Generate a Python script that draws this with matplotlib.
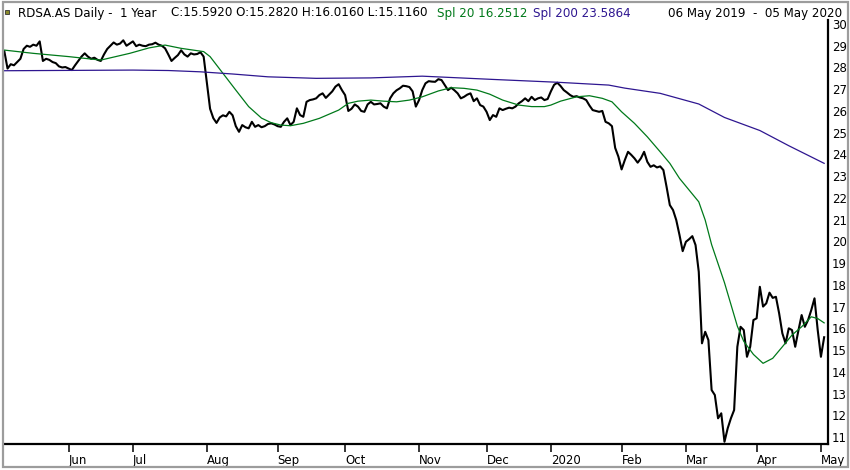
"""RDSA.AS daily close, 1 year, with Spl 20 and Spl 200 moving averages."""

import matplotlib

matplotlib.use("Agg")
import matplotlib.pyplot as plt
import numpy as np
import pandas as pd
from matplotlib.patches import Rectangle

# trading calendar (Euronext, holidays removed)
holidays = ["2019-12-25", "2019-12-26", "2020-01-01", "2020-04-10", "2020-04-13", "2020-05-01"]
dates = pd.bdate_range("2019-05-06", "2020-05-05")
dates = dates[~dates.isin(pd.to_datetime(holidays))]

# daily close
close = [
    28.75, 27.95, 28.15, 28.10, 28.25, 28.40, 28.85, 29.00, 28.95, 29.05,
    29.00, 29.20, 28.30, 28.40, 28.35, 28.25, 28.20, 28.05, 28.00, 28.02,
    27.95, 27.88, 28.10, 28.30, 28.50, 28.65, 28.50, 28.40, 28.45, 28.35,
    28.30, 28.60, 28.85, 29.00, 29.15, 29.05, 29.10, 29.25, 29.00, 29.10,
    29.20, 28.98, 29.05, 29.00, 28.98, 29.05, 29.07, 29.14, 29.05, 29.00,
    28.88, 28.60, 28.30, 28.44, 28.57, 28.79, 28.60, 28.50, 28.65, 28.60,
    28.62, 28.70, 28.50, 27.30, 26.10, 25.67, 25.45, 25.70, 25.80, 25.75,
    25.96, 25.80, 25.30, 25.04, 25.35, 25.25, 25.20, 25.50, 25.27, 25.35,
    25.25, 25.30, 25.40, 25.43, 25.38, 25.30, 25.27, 25.50, 25.66, 25.35,
    25.50, 26.12, 25.81, 25.73, 26.42, 26.50, 26.53, 26.58, 26.73, 26.81,
    26.60, 26.75, 26.90, 27.12, 27.23, 26.96, 26.73, 26.00, 26.10, 26.30,
    26.20, 26.00, 25.96, 26.30, 26.42, 26.30, 26.32, 26.35, 26.20, 26.12,
    26.58, 26.81, 26.95, 27.04, 27.16, 27.14, 27.10, 26.90, 26.20, 26.50,
    26.96, 27.27, 27.37, 27.35, 27.34, 27.46, 27.42, 27.19, 26.96, 27.07,
    26.95, 26.81, 26.58, 26.65, 26.75, 26.81, 26.45, 26.58, 26.27, 26.20,
    25.96, 25.58, 25.81, 25.73, 26.12, 26.04, 26.10, 26.15, 26.12, 26.20,
    26.35, 26.45, 26.58, 26.45, 26.65, 26.50, 26.58, 26.62, 26.50, 26.55,
    26.90, 27.20, 27.30, 27.15, 26.96, 26.85, 26.73, 26.65, 26.68, 26.62,
    26.58, 26.50, 26.25, 26.04, 26.00, 25.96, 26.00, 25.50, 25.43, 25.30,
    24.30, 23.90, 23.31, 23.74, 24.12, 23.98, 23.82, 23.62, 23.82, 24.12,
    23.66, 23.43, 23.50, 23.40, 23.45, 23.28, 22.50, 21.67, 21.44, 20.98,
    20.30, 19.55, 19.98, 20.10, 20.24, 19.83, 18.60, 15.31, 15.84, 15.46,
    13.16, 12.93, 11.86, 12.09, 10.78, 11.40, 11.86, 12.24, 15.15, 16.07,
    15.92, 14.69, 15.15, 16.38, 16.46, 17.91, 17.00, 17.15, 17.64, 17.40,
    17.45, 16.69, 15.77, 15.31, 16.00, 15.92, 15.15, 15.90, 16.61, 16.07,
    16.38, 16.84, 17.38, 15.92, 14.69, 15.59,
]

# Spl 20 (green) read at selected trading days
spl20_idx = [0, 9, 20, 30, 39, 45, 50, 55, 62, 64, 68, 72, 76, 80, 83, 86, 89,
             93, 98, 104, 107, 110, 114, 118, 122, 126, 130, 135, 139, 143, 147,
             151, 155, 160, 164, 168, 170, 173, 178, 182, 186, 189, 192, 196,
             200, 204, 207, 210, 213, 216, 218, 220, 224, 226, 228, 230, 233,
             236, 239, 242, 245, 248, 251, 253, 255]
spl20_val = [28.80, 28.65, 28.50, 28.34, 28.65, 28.90, 29.03, 28.88, 28.73,
             28.50, 27.73, 26.96, 26.20, 25.67, 25.46, 25.35, 25.32, 25.43,
             25.66, 26.04, 26.35, 26.45, 26.50, 26.45, 26.42, 26.50, 26.65,
             26.92, 27.07, 27.04, 26.96, 26.77, 26.50, 26.27, 26.20, 26.20,
             26.27, 26.45, 26.65, 26.70, 26.58, 26.42, 25.96, 25.43, 24.81,
             24.12, 23.59, 22.90, 22.36, 21.82, 20.98, 19.85, 18.10, 17.10,
             16.10, 15.40, 14.80, 14.39, 14.62, 15.15, 15.69, 16.07, 16.53,
             16.45, 16.25]

# Spl 200 (purple) read at selected trading days
spl200_idx = [0, 40, 51, 61, 71, 82, 97, 114, 130, 152, 172, 188, 193, 204,
              216, 224, 235, 244, 255]
spl200_val = [27.85, 27.88, 27.86, 27.80, 27.70, 27.57, 27.50, 27.52, 27.60,
              27.45, 27.32, 27.19, 27.05, 26.81, 26.32, 25.70, 25.10, 24.40,
              23.59]

month_names = ["Jun", "Jul", "Aug", "Sep", "Oct", "Nov", "Dec", "2020",
               "Feb", "Mar", "Apr", "May"]
y_ticks = list(range(11, 31))

GREEN = "#00791a"
PURPLE = "#2e1690"

W, H = 850, 470
fig = plt.figure(figsize=(W / 100, H / 100), dpi=100)
fig.patch.set_facecolor("white")

# outer gray frame
fig.patches.append(Rectangle((3 / W, 3 / H), 845 / W, 465 / H, transform=fig.transFigure,
                             fill=False, edgecolor="#9c9c9c", lw=1.6))

ax = fig.add_axes([4 / W, (H - 444) / H, 824 / W, 424 / H])
x = np.arange(len(close))
ax.plot(x, close, color="black", lw=1.5, solid_joinstyle="round")
ax.plot(spl20_idx, spl20_val, color=GREEN, lw=0.9)
ax.plot(spl200_idx, spl200_val, color=PURPLE, lw=0.9)

ax.set_xlim(-0.1, 256.2)
ax.set_ylim(10.678, 30.184)

for side in ["left", "top"]:
    ax.spines[side].set_visible(False)
for side in ["right", "bottom"]:
    ax.spines[side].set_linewidth(1.6)
    ax.spines[side].set_color("black")

# month ticks at first trading day of each month
pos = pd.Series(np.arange(len(dates)), index=dates)
month_start = pos.groupby([dates.year, dates.month]).first().values[1:]
ax.set_xticks(month_start)
ax.set_xticklabels(month_names, ha="left", fontsize=8.5)
ax.tick_params(axis="x", direction="out", length=5.5, width=1.1, pad=1.5)

ax.yaxis.tick_right()
ax.set_yticks(y_ticks)
ax.set_yticklabels([str(v) for v in y_ticks], fontsize=8.5)
ax.tick_params(axis="y", length=0, pad=3)

# header
ty = 1 - 13 / H
fs = 8.6
fig.patches.append(Rectangle((5 / W, 1 - 14 / H), 4 / W, 4 / H, transform=fig.transFigure,
                             facecolor="#8a8a2a", edgecolor="#333333", lw=0.6))
fig.text(18 / W, ty, "RDSA.AS Daily -  1 Year", fontsize=fs, va="center")
fig.text(171 / W, ty, "C:15.5920 O:15.2820 H:16.0160 L:15.1160", fontsize=fs, va="center")
fig.text(437 / W, ty, "Spl 20 16.2512", fontsize=fs, va="center", color=GREEN)
fig.text(533 / W, ty, "Spl 200 23.5864", fontsize=fs, va="center", color=PURPLE)
fig.text(842 / W, ty, "06 May 2019  -  05 May 2020", fontsize=fs, va="center", ha="right")

fig.savefig("out.png", dpi=100)
